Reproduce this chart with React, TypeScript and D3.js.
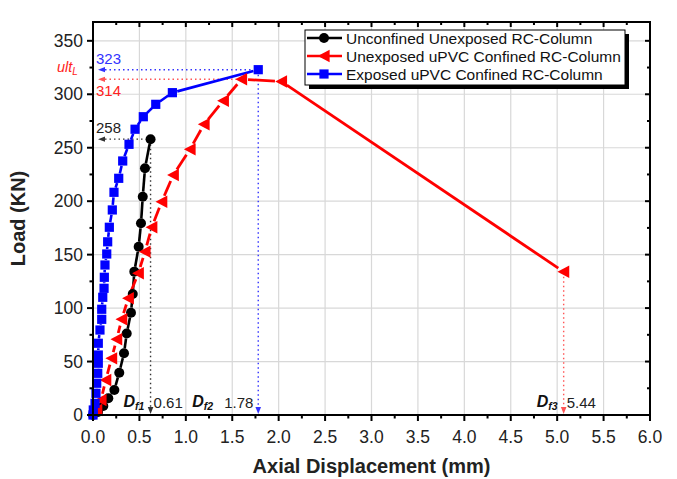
import React from 'react';
import * as d3 from 'd3';

// Unconfined Unexposed RC-Column
const blackX = [0, 0.054, 0.111, 0.165, 0.23, 0.283, 0.334, 0.363, 0.409, 0.428, 0.445, 0.492, 0.517, 0.536, 0.56, 0.62];
const blackY = [0, 2.8, 8.4, 15.6, 23.4, 39.6, 57.7, 76.2, 95.7, 113.2, 134.1, 157.4, 179.3, 204.2, 230.8, 258];

// Unexposed uPVC Confined RC-Column
const redX = [0.04, 0.086, 0.137, 0.2, 0.255, 0.309, 0.38, 0.488, 0.56, 0.633, 0.74, 0.865, 1.045, 1.196, 1.404, 1.6, 2.03, 5.07];
const redY = [4.7, 14, 32.7, 53, 70.8, 89.5, 109.2, 132.6, 152.8, 175.6, 199.5, 224.5, 248.5, 271.9, 294, 314, 312, 134];

// Exposed uPVC Confined RC-Column
const blueX = [0, 0.003, 0.022, 0.032, 0.04, 0.051, 0.057, 0.057, 0.057, 0.075, 0.094, 0.094, 0.105, 0.119, 0.122, 0.129, 0.148, 0.158, 0.176, 0.208, 0.226, 0.277, 0.32, 0.388, 0.453, 0.542, 0.676, 0.855, 1.78];
const blueY = [0, 4.7, 10.9, 20.3, 29.7, 39, 48.4, 56.1, 67.1, 79.5, 89.5, 98.9, 110.1, 118.5, 128.8, 140.3, 150.6, 162, 175.6, 191.8, 208.3, 221.4, 237.6, 253.2, 267.3, 279, 290.6, 301.5, 323];

const legendLabels = ['Unconfined Unexposed RC-Column', 'Unexposed uPVC Confined RC-Column', 'Exposed uPVC Confined RC-Column'];
const xTicks = [0, 0.5, 1, 1.5, 2, 2.5, 3, 3.5, 4, 4.5, 5, 5.5, 6];
const yTicks = [0, 50, 100, 150, 200, 250, 300, 350];

// annotated points and their texts
const ultBlue = { x: 1.78, y: 323, label: '323', dLabel: '1.78', d: 'f2', valueLeft: true };
const ultRed = { x: 1.6, y: 314, label: '314' };
const ultBlack = { x: 0.62, y: 258, label: '258', dLabel: '0.61', d: 'f1', valueLeft: false };
const endRed = { x: 5.07, y: 134, dLabel: '5.44', d: 'f3', valueLeft: false };

const W = 677;
const H = 479;
const m = { left: 93, right: 27, top: 22, bottom: 64 };
const FONT = 'Liberation Sans, Arial, sans-serif';

const x = d3.scaleLinear().domain([0, 6]).range([m.left, W - m.right]);
const y = d3.scaleLinear().domain([0, 367.6]).range([H - m.bottom, m.top]);

function gapLines(xs: number[], ys: number[], color: string, gap: number, w: number) {
  const segs = [];
  for (let i = 0; i < xs.length - 1; i++) {
    const x1 = x(xs[i]), y1 = y(ys[i]), x2 = x(xs[i + 1]), y2 = y(ys[i + 1]);
    const len = Math.hypot(x2 - x1, y2 - y1);
    if (len <= gap * 2) continue;
    const ux = (x2 - x1) / len, uy = (y2 - y1) / len;
    segs.push(
      <line key={i} x1={x1 + ux * gap} y1={y1 + uy * gap} x2={x2 - ux * gap} y2={y2 - uy * gap}
        stroke={color} strokeWidth={w} />
    );
  }
  return segs;
}

const circle = (cx: number, cy: number, k: any) => <circle key={k} cx={cx} cy={cy} r={5} fill="#000" />;
const tri = (cx: number, cy: number, k: any) => (
  <path key={k} d={`M${cx - 6.2},${cy} L${cx + 5.6},${cy - 6.2} L${cx + 5.6},${cy + 6.2} Z`} fill="#ff0000" />
);
const square = (cx: number, cy: number, k: any) => <rect key={k} x={cx - 4.6} y={cy - 4.6} width={9.2} height={9.2} fill="#0000ff" />;

function leftArrow(xt: number, yt: number, color: string) {
  return <path d={`M${xt},${yt} L${xt + 7},${yt - 2.6} L${xt + 7},${yt + 2.6} Z`} fill={color} />;
}
function downArrow(xt: number, yt: number, color: string) {
  return <path d={`M${xt},${yt} L${xt - 2.8},${yt - 7} L${xt + 2.8},${yt - 7} Z`} fill={color} />;
}

export default function App() {
  const x0 = x(0), y0 = y(0), x6 = x(6), yTop = m.top;
  const xMinor = d3.range(0.25, 6, 0.5);
  const yMinor = d3.range(25, 367, 50);

  const hAnn = (p: any, color: string) => (
    <g>
      {leftArrow(x0 + 5, y(p.y), color)}
      <line x1={x0 + 12} y1={y(p.y)} x2={x(p.x) - 5} y2={y(p.y)} stroke={color} strokeWidth={1.4} strokeDasharray="1.5,3" />
    </g>
  );
  const vAnn = (p: any, color: string) => (
    <g>
      <line x1={x(p.x)} y1={y(p.y) + 5} x2={x(p.x)} y2={y0 - 8} stroke={color} strokeWidth={1.4} strokeDasharray="1.5,3" />
      {downArrow(x(p.x), y0 - 1, color)}
    </g>
  );
  const dText = (p: any) => {
    const dx = p.valueLeft ? x(p.x) - 66 : x(p.x) - 27;
    const vx = p.valueLeft ? x(p.x) - 34 : x(p.x) + 3;
    return (
      <g>
        <text x={dx} y={y0 - 8} fontSize={16} fontWeight="bold" fontStyle="italic" fontFamily={FONT} fill="#111">
          D<tspan fontSize={10.5} dy={3}>{p.d}</tspan>
        </text>
        <text x={vx} y={y0 - 7} fontSize={15} fontFamily={FONT} fill="#222">{p.dLabel}</text>
      </g>
    );
  };

  const legendY = [38, 56, 74];
  const legendMarks = [circle, tri, square];
  const legendColors = ['#000', '#ff0000', '#0000ff'];

  return (
    <svg width={W} height={H} style={{ position: 'fixed', left: 0, top: 0, background: '#fff' }}>
      <rect width={W} height={H} fill="#fff" />
      {/* grid */}
      {xTicks.slice(1, -1).map((t) => (
        <line key={'gx' + t} x1={x(t)} x2={x(t)} y1={yTop} y2={y0} stroke="#d8d8d8" strokeWidth={1.2} />
      ))}
      {yTicks.slice(1).map((t) => (
        <line key={'gy' + t} x1={x0} x2={x6} y1={y(t)} y2={y(t)} stroke="#d8d8d8" strokeWidth={1.2} />
      ))}

      {/* annotations */}
      {hAnn(ultBlue, '#3333ff')}
      {hAnn(ultRed, '#ff5555')}
      {hAnn(ultBlack, '#333')}
      {vAnn(ultBlue, '#3333ff')}
      {vAnn(ultBlack, '#333')}
      {vAnn(endRed, '#ff5555')}

      {/* series */}
      {gapLines(blackX, blackY, '#000', 5, 2.6)}
      {gapLines(redX, redY, '#ff0000', 6.5, 2.8)}
      {gapLines(blueX, blueY, '#0000ff', 5, 2.6)}
      {blackX.map((v, i) => circle(x(v), y(blackY[i]), 'b' + i))}
      {redX.map((v, i) => tri(x(v), y(redY[i]), 'r' + i))}
      {blueX.map((v, i) => square(x(v), y(blueY[i]), 'q' + i))}

      {/* frame */}
      <rect x={x0} y={yTop} width={x6 - x0} height={y0 - yTop} fill="none" stroke="#000" strokeWidth={2} />

      {/* ticks */}
      {xTicks.map((t) => (
        <g key={'xt' + t}>
          <line x1={x(t)} x2={x(t)} y1={y0} y2={y0 + 6} stroke="#000" strokeWidth={2} />
          <line x1={x(t)} x2={x(t)} y1={yTop} y2={yTop + 5} stroke="#000" strokeWidth={2} />
          <text x={x(t)} y={y0 + 28} textAnchor="middle" fontSize={17.5} fontFamily={FONT} fill="#222">{t.toFixed(1)}</text>
        </g>
      ))}
      {xMinor.map((t) => (
        <g key={'xm' + t}>
          <line x1={x(t)} x2={x(t)} y1={y0} y2={y0 + 3.5} stroke="#000" strokeWidth={2} />
          <line x1={x(t)} x2={x(t)} y1={yTop} y2={yTop + 3} stroke="#000" strokeWidth={2} />
        </g>
      ))}
      {yTicks.map((t) => (
        <g key={'yt' + t}>
          <line x1={x0 - 6} x2={x0} y1={y(t)} y2={y(t)} stroke="#000" strokeWidth={2} />
          <line x1={x6 - 5} x2={x6} y1={y(t)} y2={y(t)} stroke="#000" strokeWidth={2} />
          <text x={x0 - 10} y={y(t) + 6} textAnchor="end" fontSize={17.5} fontFamily={FONT} fill="#222">{t}</text>
        </g>
      ))}
      {yMinor.map((t) => (
        <g key={'ym' + t}>
          <line x1={x0 - 3.5} x2={x0} y1={y(t)} y2={y(t)} stroke="#000" strokeWidth={2} />
          <line x1={x6 - 3} x2={x6} y1={y(t)} y2={y(t)} stroke="#000" strokeWidth={2} />
        </g>
      ))}

      {/* value labels */}
      <text x={x0 + 3} y={y(ultBlue.y) - 6} fontSize={15} fontFamily={FONT} fill="#3333ff">{ultBlue.label}</text>
      <text x={x0 + 3} y={y(ultRed.y) + 17} fontSize={15} fontFamily={FONT} fill="#ff2222">{ultRed.label}</text>
      <text x={x0 + 3} y={y(ultBlack.y) - 6} fontSize={15} fontFamily={FONT} fill="#222">{ultBlack.label}</text>
      <text x={x0 - 36} y={y(ultRed.y) - 7} fontSize={14.5} fontStyle="italic" fontFamily={FONT} fill="#ff2222">
        ult<tspan fontSize={10} dy={3}>L</tspan>
      </text>
      {dText(ultBlack)}
      {dText(ultBlue)}
      {dText(endRed)}

      {/* legend */}
      <rect x={309} y={34} width={320} height={55} fill="#000" />
      <rect x={305} y={30} width={320} height={55} fill="#fff" stroke="#000" strokeWidth={1} />
      {legendLabels.map((l, i) => (
        <g key={'lg' + i}>
          <line x1={307} x2={342} y1={legendY[i]} y2={legendY[i]} stroke={legendColors[i]} strokeWidth={2.5} />
          {legendMarks[i](324, legendY[i], 'lm' + i)}
          <text x={346} y={legendY[i] + 5.5} fontSize={15.5} fontFamily={FONT} fill="#111">{l}</text>
        </g>
      ))}

      {/* axis titles */}
      <text x={(x0 + x6) / 2} y={473} textAnchor="middle" fontSize={20} fontWeight="bold" fontFamily={FONT} fill="#222">
        Axial Displacement (mm)
      </text>
      <text transform={`translate(25,${(yTop + y0) / 2}) rotate(-90)`} textAnchor="middle" fontSize={20} fontWeight="bold"
        fontFamily={FONT} fill="#222">
        Load (KN)
      </text>
    </svg>
  );
}
